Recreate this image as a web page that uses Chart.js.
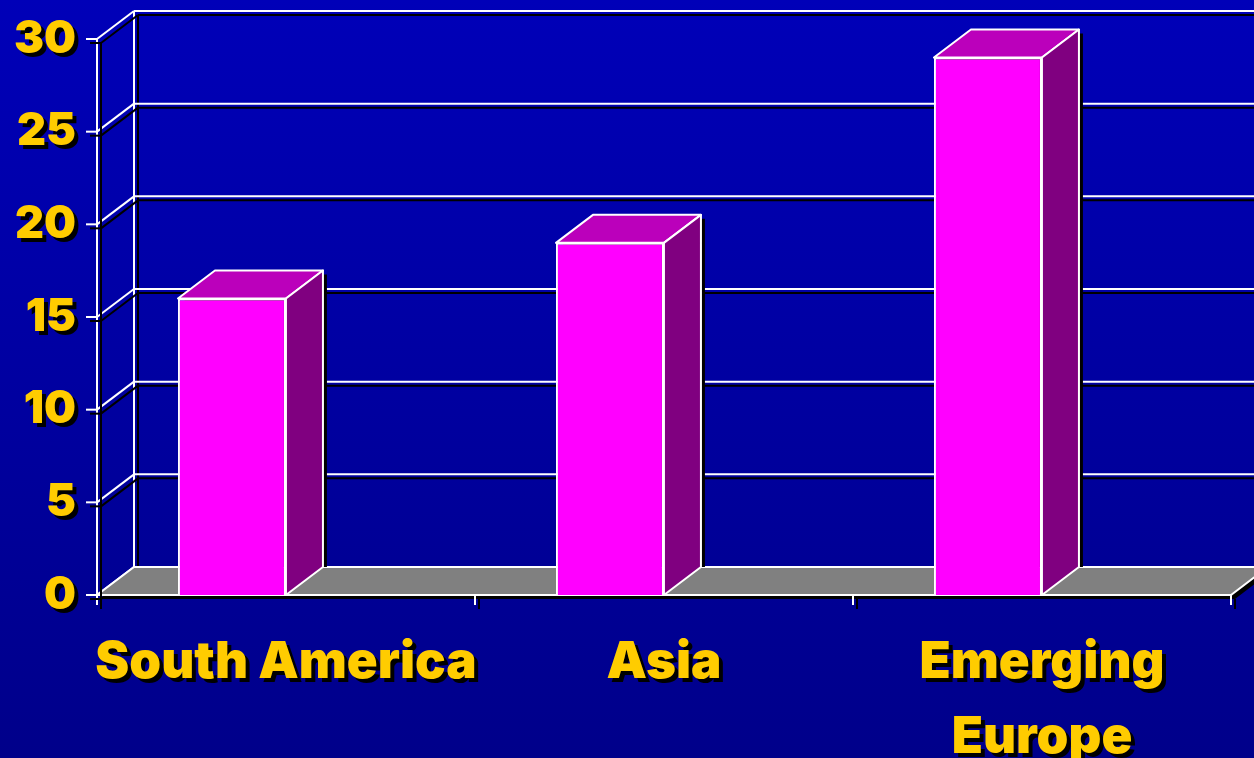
<!DOCTYPE html>
<html>
<head>
<meta charset="utf-8">
<script src="https://cdn.jsdelivr.net/npm/chart.js@4.4.1/dist/chart.umd.min.js"></script>
<style>
    html, body { margin: 0; padding: 0; overflow: hidden; }
    #wrap {
        width: 1254px;
        height: 758px;
        position: relative;
        background: linear-gradient(to bottom, #0000b8, #00008a);
    }
</style>
</head>
<body>
<div id="wrap"><canvas id="chart"></canvas></div>
<script>
// --- Data ---
const categories = ['South America', 'Asia', ['Emerging', 'Europe']];
const values = [16, 19, 29];
const yTicks = [0, 5, 10, 15, 20, 25, 30];

// --- Look of the 3D box ---
const DEPTH_X = 37;
const DEPTH_Y = 28;
const SHADOW = 4;
const BAR_SHIFT = 0.143; // front face ends at the category centre
const LABEL_FONT = 'Inter';

function setShadow(ctx, on) {
    ctx.shadowColor = on ? '#000000' : 'rgba(0,0,0,0)';
    ctx.shadowOffsetX = on ? SHADOW : 0;
    ctx.shadowOffsetY = on ? SHADOW : 0;
    ctx.shadowBlur = 0;
}

function line(ctx, x1, y1, x2, y2) {
    ctx.beginPath();
    ctx.moveTo(x1, y1);
    ctx.lineTo(x2, y2);
    ctx.stroke();
}

function poly(ctx, pts) {
    ctx.beginPath();
    pts.forEach(([px, py], i) => i ? ctx.lineTo(px, py) : ctx.moveTo(px, py));
    ctx.closePath();
}

function barBox(bar) {
    const { x, y, base, width } = bar.getProps(['x', 'y', 'base', 'width'], true);
    return { x0: x - width / 2, x1: x + width / 2, top: y, bottom: base };
}

// --- Walls, floor, shadows and the two hidden faces of each bar ---
const box3d = {
    id: 'box3d',
    beforeDraw(chart) {
        // tick labels get the same black drop shadow
        setShadow(chart.ctx, true);
    },
    beforeDatasetsDraw(chart) {
        const { ctx, chartArea: { left, right, top, bottom }, scales: { x, y } } = chart;
        setShadow(ctx, false);
        ctx.save();
        ctx.strokeStyle = '#ffffff';
        ctx.lineWidth = 2;
        const backLeft = left + DEPTH_X;

        // back wall
        setShadow(ctx, true);
        line(ctx, backLeft, top - DEPTH_Y, backLeft, bottom - DEPTH_Y);
        y.ticks.forEach(t => {
            const py = y.getPixelForValue(t.value);
            line(ctx, backLeft, py - DEPTH_Y, chart.width, py - DEPTH_Y);
            line(ctx, left, py, backLeft, py - DEPTH_Y);
        });

        // floor
        poly(ctx, [[left, bottom], [right, bottom], [right + DEPTH_X, bottom - DEPTH_Y], [backLeft, bottom - DEPTH_Y]]);
        ctx.fillStyle = '#808080';
        ctx.fill();
        setShadow(ctx, false);
        ctx.stroke();
        setShadow(ctx, true);

        // front axis and tick marks
        line(ctx, left, top, left, bottom + 10);
        y.ticks.forEach(t => {
            const py = y.getPixelForValue(t.value);
            line(ctx, left - 11, py, left, py);
        });
        const step = x.getPixelForValue(1) - x.getPixelForValue(0);
        x.ticks.forEach((t, i) => {
            const px = x.getPixelForValue(i) + step / 2;
            line(ctx, px, bottom, px, bottom + 10);
        });

        // bar shadows, kept off the floor
        setShadow(ctx, false);
        ctx.beginPath();
        ctx.rect(0, 0, chart.width, bottom - DEPTH_Y);
        ctx.clip();
        ctx.fillStyle = '#000000';
        chart.getDatasetMeta(0).data.forEach(bar => {
            const b = barBox(bar);
            const s = SHADOW;
            poly(ctx, [
                [b.x0 + s, b.top + s], [b.x0 + DEPTH_X + s, b.top - DEPTH_Y + s],
                [b.x1 + DEPTH_X + s, b.top - DEPTH_Y + s], [b.x1 + DEPTH_X + s, b.bottom - DEPTH_Y + s],
                [b.x1 + s, b.bottom + s], [b.x0 + s, b.bottom + s]
            ]);
            ctx.fill();
        });
        ctx.restore();
        setShadow(ctx, false);
    },
    afterDatasetsDraw(chart) {
        const ctx = chart.ctx;
        ctx.save();
        setShadow(ctx, false);
        ctx.strokeStyle = '#ffffff';
        ctx.lineWidth = 2;
        ctx.lineJoin = 'round';
        chart.getDatasetMeta(0).data.forEach(bar => {
            const b = barBox(bar);
            poly(ctx, [[b.x0, b.top], [b.x1, b.top], [b.x1 + DEPTH_X, b.top - DEPTH_Y], [b.x0 + DEPTH_X, b.top - DEPTH_Y]]);
            ctx.fillStyle = '#bb00bb';
            ctx.fill();
            ctx.stroke();
            poly(ctx, [[b.x1, b.top], [b.x1 + DEPTH_X, b.top - DEPTH_Y], [b.x1 + DEPTH_X, b.bottom - DEPTH_Y], [b.x1, b.bottom]]);
            ctx.fillStyle = '#800080';
            ctx.fill();
            ctx.stroke();
        });
        ctx.restore();
    },
    afterDraw(chart) {
        setShadow(chart.ctx, false);
    }
};

// --- Chart ---
const ctx = document.getElementById('chart').getContext('2d');
new Chart(ctx, {
    type: 'bar',
    data: {
        labels: categories,
        datasets: [{
            data: values.map((v, i) => ({ x: i, y: v })),
            xAxisID: 'xb',
            backgroundColor: '#ff00ff',
            borderColor: '#ffffff',
            borderWidth: 2,
            categoryPercentage: 1,
            barPercentage: 108 / 378
        }]
    },
    options: {
        responsive: true,
        maintainAspectRatio: false,
        animation: false,
        events: [],
        layout: { padding: { top: 39, right: 23, bottom: 0, left: 0 } },
        plugins: { legend: { display: false }, tooltip: { enabled: false } },
        scales: {
            x: {
                type: 'category',
                grid: { display: false, drawTicks: false },
                border: { display: false },
                afterFit: s => {
                    s.height = 163;
                    s.paddingLeft = 0;
                    s.paddingRight = 0;
                },
                ticks: {
                    color: '#ffcc00',
                    font: { family: LABEL_FONT, weight: 900, size: 51, lineHeight: 1.47 },
                    padding: 30,
                    maxRotation: 0,
                    minRotation: 0,
                    autoSkip: false
                }
            },
            xb: {
                type: 'linear',
                axis: 'x',
                display: false,
                offset: false,
                bounds: 'data',
                grid: { offset: false },
                min: -0.5 + BAR_SHIFT,
                max: categories.length - 0.5 + BAR_SHIFT,
                afterBuildTicks: s => { s.ticks = categories.map((c, i) => ({ value: i })); }
            },
            y: {
                min: 0,
                max: 30,
                grid: { display: false, drawTicks: false },
                border: { display: false },
                afterFit: s => {
                    s.width = 97;
                    s.paddingTop = 0;
                    s.paddingBottom = 0;
                },
                afterBuildTicks: s => { s.ticks = yTicks.map(v => ({ value: v })); },
                ticks: {
                    color: '#ffcc00',
                    font: { family: LABEL_FONT, weight: 900, size: 45 },
                    padding: 21
                }
            }
        }
    },
    plugins: [box3d]
});
</script>
</body>
</html>
